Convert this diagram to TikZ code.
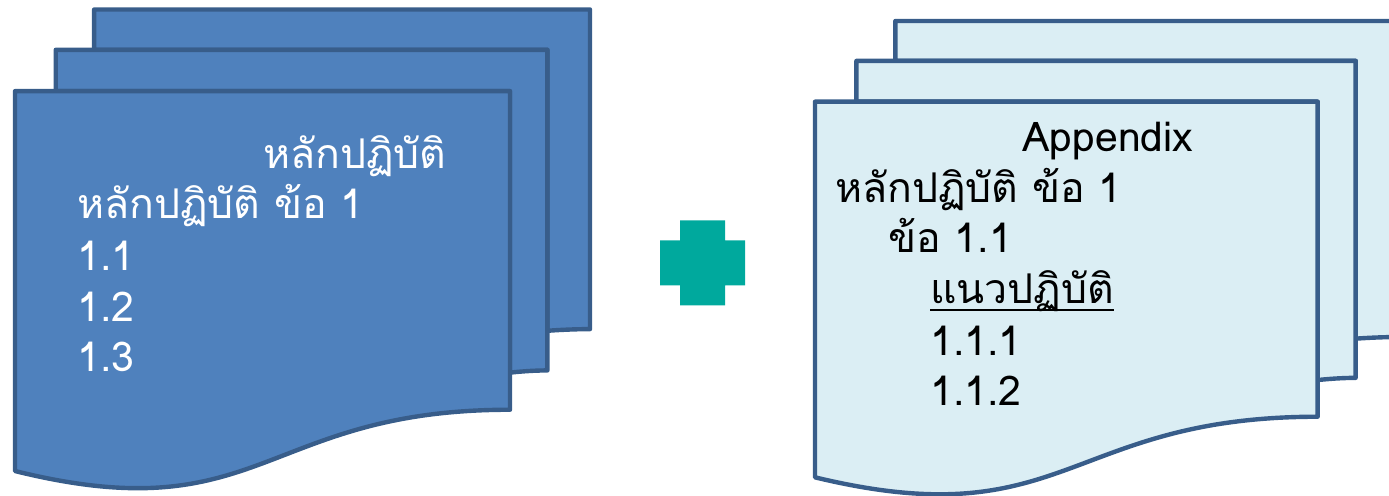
\documentclass[tikz,border=0pt]{standalone}
\usepackage{fontspec}
\newfontfamily\thaifont[Script=Thai]{Loma}
\usetikzlibrary{positioning,calc}

\definecolor{darkfill}{HTML}{4F81BD}
\definecolor{lightfill}{HTML}{DBEEF4}
\definecolor{pageline}{HTML}{385D8A}
\definecolor{plusfill}{HTML}{00A99D}

% three stacked pages, drawn back to front (21.6 x 21.6 box)
\newcommand{\pagestack}[5]{%
  \begin{scope}[shift={(#1,#2)}, xscale=#3/21.6, yscale=#4/21.6,
      fill=#5, draw=pageline, line width=2.2pt, line join=round]
    \filldraw (2.972,1.815) -- (2.972,0) -- (21.6,0) -- (21.6,14.392)
      .. controls (20.8,14.392) and (20,14.467) .. (20,14.467) -- (20,1.815) -- cycle;
    \filldraw (1.532,3.675) -- (1.532,1.815) -- (20,1.815) -- (20,16.252)
      .. controls (19.298,16.252) and (18.595,16.352) .. (18.595,16.352) -- (18.595,3.675) -- cycle;
    \filldraw (0,20.782) .. controls (9.298,23.542) and (9.298,18.022) .. (18.595,18.022)
      -- (18.595,3.675) -- (0,3.675) -- cycle;
  \end{scope}}

\begin{document}
\begin{tikzpicture}[x=0.5pt, y=-0.5pt,
    line/.style={anchor=base west, inner sep=0pt, font=\thaifont\fontsize{20.5pt}{25pt}\selectfont}]
    \useasboundingbox (0,0) rectangle (1389,496);

    \pagestack{15}{9.5}{575}{479.7}{darkfill}
    \pagestack{815}{21}{583.9}{474.3}{lightfill}

    % plus sign
    \fill[plusfill] (680,220.5) -- (725,220.5) -- (725,240.5) -- (745,240.5) -- (745,285.5)
      -- (725,285.5) -- (725,305.5) -- (680,305.5) -- (680,285.5) -- (660,285.5)
      -- (660,240.5) -- (680,240.5) -- cycle;

    % left pages
    \node[line, text=white] (lt) at (263,169) {หลักปฏิบัติ};
    \node[line, text=white] (l1) at (77,219) {หลักปฏิบัติ ข้อ 1};
    \node[line, text=white] (l2) at (77,271) {1.1};
    \node[line, text=white] (l3) at (77,322) {1.2};
    \node[line, text=white] (l4) at (77,372) {1.3};

    % right pages
    \node[line] (rt) at (1022,152) {Appendix};
    \node[line] (r1) at (835,203) {หลักปฏิบัติ ข้อ 1};
    \node[line] (r2) at (888,253) {ข้อ 1.1};
    \node[line] (r3) at (930,304) {แนวปฏิบัติ};
    \node[line] (r4) at (930,356) {1.1.1};
    \node[line] (r5) at (930,406) {1.1.2};
    \draw[line width=1pt] ([yshift=-3pt]r3.base west) -- ([yshift=-3pt]r3.base east);
\end{tikzpicture}
\end{document}
